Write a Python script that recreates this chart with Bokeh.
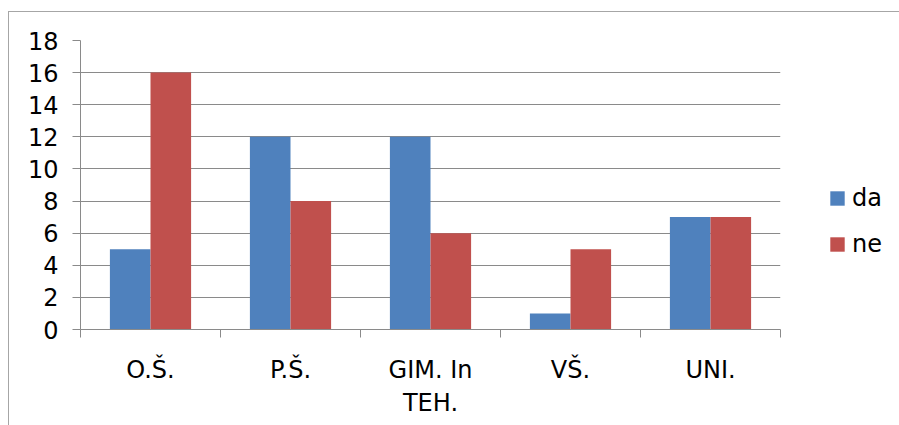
from bokeh.plotting import figure
from bokeh.models import (ColumnDataSource, Range1d, LinearAxis, FixedTicker,
                          Legend, LegendItem)
from bokeh.transform import dodge
from bokeh.embed import file_html
from bokeh.resources import INLINE

categories = ["O.Š.", "P.Š.", "GIM. In\nTEH.", "VŠ.", "UNI."]
da = [5, 12, 12, 1, 7]
ne = [16, 8, 6, 5, 7]
y_ticks = [0, 2, 4, 6, 8, 10, 12, 14, 16, 18]

BLUE = "#4F81BD"
RED = "#C0504D"
GRID = "#8a8a8a"
FONT = "DejaVu Sans"
FS = "24px"

centers = [i + 0.5 for i in range(len(categories))]
bounds = list(range(len(categories) + 1))
src = ColumnDataSource(dict(x=centers, da=da, ne=ne))

p = figure(frame_width=700, frame_height=289, width=890, height=413,
           x_range=Range1d(0, len(categories)), y_range=Range1d(0, 18),
           x_axis_location=None, y_axis_location=None,
           output_backend="svg", toolbar_location=None, tools="")
p.min_border_left = 71
p.min_border_right = 119
p.min_border_top = 28
p.min_border_bottom = 96
p.outline_line_color = None
p.background_fill_color = "white"
p.border_fill_color = "white"
p.styles = {"border-top": "1px solid #a6a6a6", "border-left": "1px solid #a6a6a6",
            "margin-top": "11px", "margin-left": "8px"}

bw = 0.29
r_da = p.vbar(x=dodge("x", -bw / 2, range=p.x_range), top="da", width=bw,
              source=src, fill_color=BLUE, line_color=None)
r_ne = p.vbar(x=dodge("x", bw / 2, range=p.x_range), top="ne", width=bw,
              source=src, fill_color=RED, line_color=None)

# y axis
yax = LinearAxis(ticker=FixedTicker(ticks=y_ticks))
yax.axis_line_color = GRID
yax.major_tick_line_color = GRID
yax.major_tick_out = 8
yax.major_tick_in = 0
yax.minor_tick_line_color = None
yax.major_label_text_font = FONT
yax.major_label_text_font_size = FS
yax.major_label_text_color = "black"
yax.major_label_standoff = 14
p.add_layout(yax, "left")

# x axis: labels at category centers, tick marks at category boundaries
xax = LinearAxis(ticker=FixedTicker(ticks=centers, minor_ticks=bounds))
xax.major_label_overrides = {c: lab for c, lab in zip(centers, categories)}
xax.axis_line_color = GRID
xax.major_tick_line_color = None
xax.minor_tick_line_color = GRID
xax.minor_tick_out = 8
xax.minor_tick_in = 0
xax.major_label_text_font = FONT
xax.major_label_text_font_size = FS
xax.major_label_text_color = "black"
xax.major_label_standoff = 18
p.add_layout(xax, "below")

p.xgrid.visible = False
p.ygrid.ticker = FixedTicker(ticks=y_ticks)
p.ygrid.grid_line_color = GRID
p.ygrid.grid_line_width = 1

legend = Legend(items=[LegendItem(label="da", renderers=[r_da]),
                       LegendItem(label="ne", renderers=[r_ne])],
                location=(48, 70))
legend.glyph_width = 18
legend.glyph_height = 18
legend.label_height = 30
legend.label_standoff = 6
legend.spacing = 16
legend.padding = 0
legend.margin = 0
legend.border_line_color = None
legend.background_fill_alpha = 0
legend.label_text_font = FONT
legend.label_text_font_size = FS
legend.label_text_color = "black"
p.add_layout(legend, "right")

open("out.html", "w").write(file_html(p, INLINE))
